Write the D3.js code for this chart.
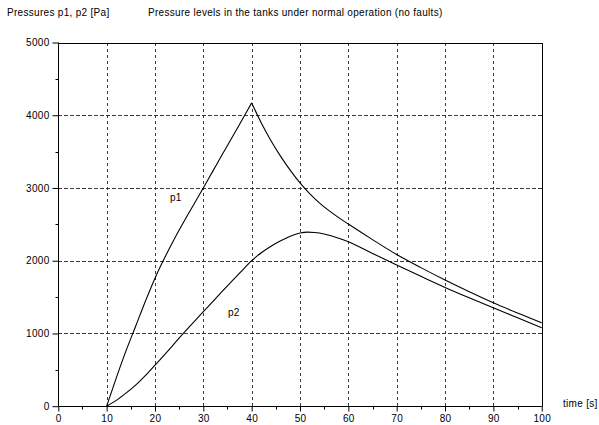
<!DOCTYPE html>
<html>
<head>
<meta charset="utf-8">
<script src="https://cdn.jsdelivr.net/npm/d3@7"></script>
<style>
  html, body { margin: 0; padding: 0; background: #fff; }
  svg { display: block; }
  text { font-family: "Liberation Sans", Arial, sans-serif; font-size: 10px; fill: #000; letter-spacing: 0.3px; }
</style>
</head>
<body>
<svg id="chart" width="599" height="425"></svg>
<script>
// Simulation time samples [s] and tank pressures [Pa]
const timeP1 = [10, 12, 14, 16, 18, 20, 22, 24, 26, 28, 30, 32, 34, 36, 38, 40,
                42, 44, 46, 48, 50, 52, 54, 56, 58, 60, 65, 70, 75, 80, 85, 90, 95, 100];
const p1 = [0, 390, 760, 1100, 1440, 1760, 2040, 2300, 2540, 2770, 3000, 3235, 3470, 3700, 3935, 4170,
            3894, 3650, 3434, 3242, 3070, 2922, 2796, 2688, 2592, 2504, 2290, 2085, 1905, 1735, 1575, 1421, 1280, 1146];

const timeP2 = [10, 12, 14, 16, 18, 20, 22, 24, 26, 28, 30, 32, 34, 36, 38, 40,
                42, 44, 46, 48, 50, 51.5, 53, 55, 58, 60, 65, 70, 75, 80, 85, 90, 95, 100];
const p2 = [0, 80, 180, 290, 420, 564, 710, 860, 1010, 1155, 1300, 1440, 1585, 1725, 1865, 2000,
            2110, 2200, 2275, 2337, 2380, 2393, 2388, 2368, 2310, 2262, 2100, 1940, 1785, 1633, 1490, 1352, 1215, 1077];

const xTicks = [0, 10, 20, 30, 40, 50, 60, 70, 80, 90, 100];
const yTicks = [0, 1000, 2000, 3000, 4000, 5000];

const svg = d3.select("#chart");

const x = d3.scaleLinear().domain([0, 100]).range([58.3, 541.7]);
const y = d3.scaleLinear().domain([0, 5000]).range([406.2, 42.5]);

// Dashed grid
const grid = svg.append("g").attr("stroke", "#3a3a3a").attr("stroke-width", 1)
  .attr("stroke-dasharray", "3.5,2.5").attr("shape-rendering", "crispEdges");
grid.selectAll("line.v").data(xTicks.slice(1, -1)).join("line")
  .attr("x1", d => Math.round(x(d)) + 0.5).attr("x2", d => Math.round(x(d)) + 0.5)
  .attr("y1", y(5000)).attr("y2", y(0));
grid.selectAll("line.h").data(yTicks.slice(1, -1)).join("line")
  .attr("y1", d => Math.round(y(d)) + 0.5).attr("y2", d => Math.round(y(d)) + 0.5)
  .attr("x1", x(0)).attr("x2", x(100));

// Axes with minor ticks
const xMinor = d3.range(5, 100, 10);
const yMinor = d3.range(500, 5000, 1000);

const gx = svg.append("g").attr("transform", `translate(0,${Math.round(y(0)) + 0.5})`)
  .call(d3.axisBottom(x).tickValues(xTicks).tickSize(5).tickPadding(3).tickFormat(d3.format("d")));
gx.append("g").selectAll("line").data(xMinor).join("line")
  .attr("x1", d => Math.round(x(d)) + 0.5).attr("x2", d => Math.round(x(d)) + 0.5)
  .attr("y1", 0).attr("y2", 3).attr("stroke", "#000");

const gy = svg.append("g").attr("transform", `translate(${Math.round(x(0)) + 0.5},0)`)
  .call(d3.axisLeft(y).tickValues(yTicks).tickSize(6).tickPadding(3).tickFormat(d3.format("d")));
gy.append("g").selectAll("line").data(yMinor).join("line")
  .attr("y1", d => Math.round(y(d)) + 0.5).attr("y2", d => Math.round(y(d)) + 0.5)
  .attr("x1", 0).attr("x2", -3).attr("stroke", "#000");

svg.selectAll(".domain").attr("stroke", "#000");
svg.selectAll(".tick line").attr("stroke", "#000");
svg.selectAll(".tick text").style("font-size", "10px").style("font-family", "\"Liberation Sans\", Arial, sans-serif");
gx.selectAll(".domain").attr("d", `M${x(0)},0H${x(100)}`);
gy.selectAll(".domain").attr("d", `M0,${y(0)}V${y(5000)}`);

// Frame top and right
svg.append("path")
  .attr("d", `M${Math.round(x(0)) + 0.5},${Math.round(y(5000)) + 0.5}H${Math.round(x(100)) + 0.5}V${Math.round(y(0)) + 0.5}`)
  .attr("fill", "none").attr("stroke", "#000").attr("shape-rendering", "crispEdges");

// Pressure curves (p1 drawn in two pieces so the peak at t=40 stays sharp)
const line = d3.line().x(d => x(d[0])).y(d => y(d[1])).curve(d3.curveMonotoneX);
const p1Pts = timeP1.map((t, i) => [t, p1[i]]);
const p2Pts = timeP2.map((t, i) => [t, p2[i]]);
const peak = timeP1.indexOf(40);
const curves = svg.append("g").attr("fill", "none").attr("stroke", "#000").attr("stroke-width", 1.1);
curves.append("path").attr("d", line(p1Pts.slice(0, peak + 1)));
curves.append("path").attr("d", line(p1Pts.slice(peak)));
curves.append("path").attr("d", line(p2Pts));

// Curve labels
svg.append("text").attr("x", 170).attr("y", 201).text("p1");
svg.append("text").attr("x", 228).attr("y", 316).text("p2");

// Titles
svg.append("text").attr("x", 7).attr("y", 16).text("Pressures p1, p2 [Pa]");
svg.append("text").attr("x", 148).attr("y", 16).text("Pressure levels in the tanks under normal operation (no faults)");
svg.append("text").attr("x", 563).attr("y", 407).text("time [s]");
</script>
</body>
</html>
